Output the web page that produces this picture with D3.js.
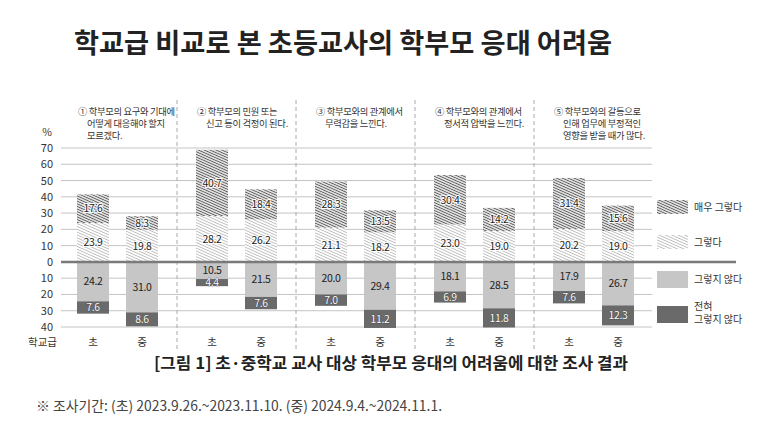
<!DOCTYPE html>
<html>
<head>
<meta charset="utf-8">
<script src="https://cdn.jsdelivr.net/npm/d3@7"></script>
<style>
  body { margin: 0; background: #fff; }
  svg { display: block; font-family: "Noto Sans CJK KR", "Noto Sans", sans-serif; }
</style>
</head>
<body>
<div id="chart"></div>
<script>
const w = 767, h = 426;

const groups = ["g1", "g2", "g3", "g4", "g5"];
const levels = ["초", "중"];
const headers = [
  ["① 학부모의 요구와 기대에", "어떻게 대응해야 할지", "모르겠다."],
  ["② 학부모의 민원 또는", "신고 등이 걱정이 된다."],
  ["③ 학부모와의 관계에서", "무력감을 느낀다."],
  ["④ 학부모와의 관계에서", "정서적 압박을 느낀다."],
  ["⑤ 학부모와의 갈등으로", "인해 업무에 부정적인", "영향을 받을 때가 많다."]
];
// [초, 중] per question
const veryYes  = [[17.6, 8.3], [40.7, 18.4], [28.3, 13.5], [30.4, 14.2], [31.4, 15.6]];
const yes      = [[23.9, 19.8], [28.2, 26.2], [21.1, 18.2], [23.0, 19.0], [20.2, 19.0]];
const no       = [[24.2, 31.0], [10.5, 21.5], [20.0, 29.4], [18.1, 28.5], [17.9, 26.7]];
const never    = [[7.6, 8.6], [4.4, 7.6], [7.0, 11.2], [6.9, 11.8], [7.6, 12.3]];
const legendLabels = [["매우 그렇다"], ["그렇다"], ["그렇지 않다"], ["전혀", "그렇지 않다"]];
const yTicks = [-40, -30, -20, -10, 0, 10, 20, 30, 40, 50, 60, 70];

const svg = d3.select("#chart").append("svg")
  .attr("width", w).attr("height", h)
  .attr("viewBox", [0, 0, w, h]);

const defs = svg.append("defs");
function hatch(id, gap, color, sw) {
  const p = defs.append("pattern").attr("id", id)
    .attr("patternUnits", "userSpaceOnUse")
    .attr("width", 8).attr("height", gap)
    .attr("patternTransform", "rotate(24)");
  p.append("rect").attr("width", 8).attr("height", gap).attr("fill", "#fff");
  p.append("line").attr("x1", 0).attr("x2", 8).attr("y1", gap / 2).attr("y2", gap / 2)
    .attr("stroke", color).attr("stroke-width", sw);
}
hatch("hDark", 2.4, "#5a5a5a", 1.1);
hatch("hLight", 2.6, "#bcbcbc", 0.9);

const x = d3.scaleBand().domain(groups).range([58, 653]);
const xi = d3.scaleBand().domain(levels).range([2, 117]).padding(0.347);
const y = d3.scaleLinear().domain([-40, 70]).range([327, 148]);

// title
svg.append("text").attr("x", 74).attr("y", 53)
  .attr("font-size", 27).attr("font-weight", 700).attr("fill", "#222")
  .attr("textLength", 538).attr("lengthAdjust", "spacingAndGlyphs")
  .text("학교급 비교로 본 초등교사의 학부모 응대 어려움");

// grid
svg.append("g").selectAll("line")
  .data(yTicks.filter(d => d !== 0))
  .join("line")
    .attr("x1", 61).attr("x2", 652)
    .attr("y1", d => y(d)).attr("y2", d => y(d))
    .attr("stroke", "#c4c4c4").attr("stroke-width", 1);

// y tick labels
svg.append("g").selectAll("text")
  .data(yTicks)
  .join("text")
    .attr("x", 53).attr("y", d => y(d) + 4)
    .attr("text-anchor", "end").attr("font-size", 11).attr("fill", "#333")
    .text(d => Math.abs(d));
svg.append("text").attr("x", 47).attr("y", 136).attr("text-anchor", "middle")
  .attr("font-size", 10.5).attr("fill", "#333").text("%");

// separators
svg.append("g").selectAll("line")
  .data(groups.slice(1))
  .join("line")
    .attr("x1", d => x(d)).attr("x2", d => x(d))
    .attr("y1", 100).attr("y2", 350)
    .attr("stroke", "#aaa").attr("stroke-width", 1).attr("stroke-dasharray", "4,3");

// headers
groups.forEach((g, i) => {
  const t = svg.append("text").attr("font-size", 9.3).attr("fill", "#333")
    .attr("letter-spacing", -0.3);
  headers[i].forEach((line, j) => {
    t.append("tspan").attr("x", x(g) + 20 + (j ? 9 : 0)).attr("y", 115 + j * 12).text(line);
  });
});

// bars
const segs = [];
groups.forEach((g, i) => {
  levels.forEach((lv, k) => {
    const bx = x(g) + xi(lv);
    segs.push({ x: bx, y0: 0, y1: yes[i][k], fill: "url(#hLight)", v: yes[i][k], kind: "light" });
    segs.push({ x: bx, y0: yes[i][k], y1: yes[i][k] + veryYes[i][k], fill: "url(#hDark)", v: veryYes[i][k], kind: "dark" });
    segs.push({ x: bx, y0: 0, y1: -no[i][k], fill: "#c6c6c6", v: no[i][k], kind: "solid" });
    segs.push({ x: bx, y0: -no[i][k], y1: -no[i][k] - never[i][k], fill: "#6a6a6a", v: never[i][k], kind: "deep" });
  });
});

svg.append("g").selectAll("rect")
  .data(segs)
  .join("rect")
    .attr("x", d => d.x).attr("width", xi.bandwidth())
    .attr("y", d => y(Math.max(d.y0, d.y1)))
    .attr("height", d => Math.abs(y(d.y0) - y(d.y1)))
    .attr("fill", d => d.fill);

// zero line
svg.append("line").attr("x1", 61).attr("x2", 736)
  .attr("y1", y(0)).attr("y2", y(0))
  .attr("stroke", "#7a7a7a").attr("stroke-width", 2.5);

// value labels
svg.append("g").selectAll("text")
  .data(segs)
  .join("text")
    .attr("x", d => d.x + xi.bandwidth() / 2)
    .attr("y", d => y((d.y0 + d.y1) / 2) + 3.8)
    .attr("text-anchor", "middle").attr("font-size", 10.5)
    .attr("letter-spacing", -0.3)
    .attr("fill", d => d.kind === "deep" ? "#fff" : "#222")
    .attr("stroke", d => d.kind === "deep" ? "#333" : (d.kind === "solid" ? "none" : "#fff"))
    .attr("stroke-width", d => d.kind === "deep" ? 0.6 : 2)
    .attr("paint-order", "stroke")
    .text(d => d.v.toFixed(1));

// x labels
svg.append("text").attr("x", 57).attr("y", 346).attr("text-anchor", "end")
  .attr("font-size", 10.5).attr("fill", "#333").text("학교급");
groups.forEach(g => {
  levels.forEach(lv => {
    svg.append("text").attr("x", x(g) + xi(lv) + xi.bandwidth() / 2).attr("y", 346)
      .attr("text-anchor", "middle").attr("font-size", 10.5).attr("fill", "#333").text(lv);
  });
});

// legend
const legendFills = ["url(#hDark)", "url(#hLight)", "#c6c6c6", "#6a6a6a"];
const legendY = [200, 235, 271, 306];
legendFills.forEach((f, i) => {
  svg.append("rect").attr("x", 657).attr("y", legendY[i]).attr("width", 31)
    .attr("height", i < 2 ? 14 : 17).attr("fill", f);
  const t = svg.append("text").attr("font-size", 10).attr("fill", "#333");
  const lines = legendLabels[i];
  lines.forEach((line, j) => {
    t.append("tspan").attr("x", 694)
      .attr("y", legendY[i] + (lines.length > 1 ? 4 + j * 13 : (i < 2 ? 11 : 12)))
      .text(line);
  });
});

// caption and note
svg.append("text").attr("x", 391).attr("y", 369).attr("text-anchor", "middle")
  .attr("font-size", 16).attr("font-weight", 700).attr("fill", "#222")
  .attr("textLength", 474).attr("lengthAdjust", "spacingAndGlyphs")
  .text("[그림 1] 초·중학교 교사 대상 학부모 응대의 어려움에 대한 조사 결과");
svg.append("text").attr("x", 36).attr("y", 411)
  .attr("font-size", 14).attr("fill", "#444")
  .attr("textLength", 406).attr("lengthAdjust", "spacingAndGlyphs")
  .text("※ 조사기간: (초) 2023.9.26.~2023.11.10. (중) 2024.9.4.~2024.11.1.");
</script>
</body>
</html>
